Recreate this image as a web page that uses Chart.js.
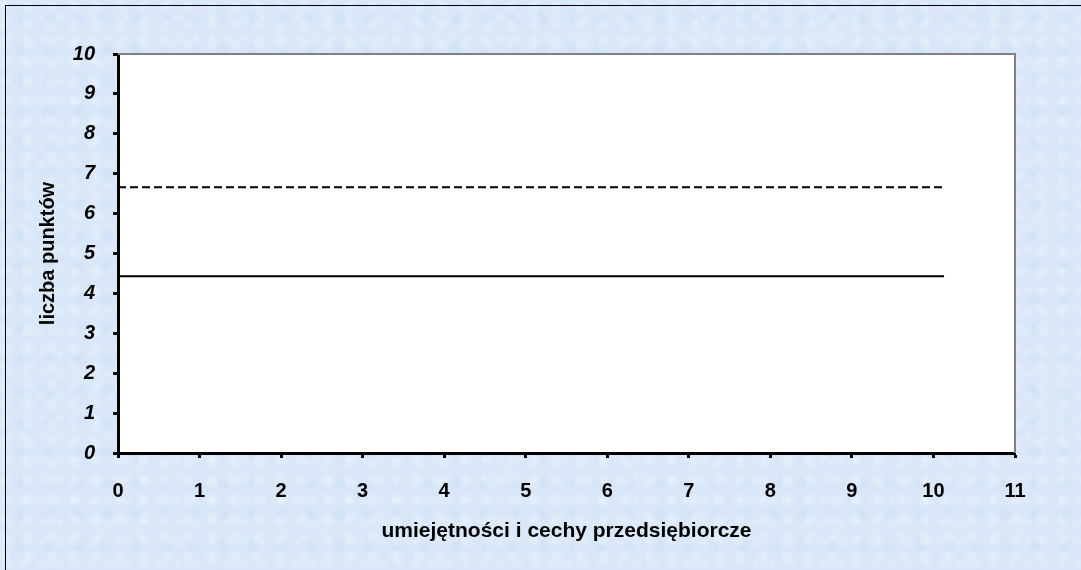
<!DOCTYPE html>
<html>
<head>
<meta charset="utf-8">
<script src="https://cdn.jsdelivr.net/npm/chart.js@4/dist/chart.umd.min.js"></script>
<style>
  html, body { margin: 0; padding: 0; }
  body {
    width: 1081px; height: 570px; overflow: hidden;
    background-color: #d9e7f8;
    background-image:
      radial-gradient(circle at 20% 30%, rgba(255,255,255,0.28) 0, rgba(255,255,255,0) 8px),
      radial-gradient(circle at 70% 60%, rgba(196,218,244,0.4) 0, rgba(196,218,244,0) 9px),
      radial-gradient(circle at 45% 85%, rgba(255,255,255,0.22) 0, rgba(255,255,255,0) 6px);
    background-size: 23px 19px, 29px 31px, 17px 21px;
  }
  #wrap {
    position: absolute; left: 5px; top: 5px; width: 1076px; height: 565px;
    border-left: 1px solid #000; border-top: 1px solid #000;
  }
  canvas { position: absolute; left: 0; top: 0; }
</style>
</head>
<body>
<div id="wrap"></div>
<canvas id="chart" width="1081" height="570"></canvas>
<script>
// data
const xTicks = [0, 1, 2, 3, 4, 5, 6, 7, 8, 9, 10, 11];
const yTicks = [0, 1, 2, 3, 4, 5, 6, 7, 8, 9, 10];
const dashedX = [0, 10.13];
const dashedY = [6.66, 6.66];
const solidX = [0, 10.13];
const solidY = [4.43, 4.43];

const toPts = (xs, ys) => xs.map((x, i) => ({ x: x, y: ys[i] }));
const FONT = "'Liberation Sans', Arial, sans-serif";

const plotFrame = {
  id: 'plotFrame',
  beforeDraw(chart) {
    const { ctx, chartArea: a } = chart;
    ctx.save();
    ctx.fillStyle = '#fff';
    ctx.fillRect(a.left, a.top, a.right - a.left, a.bottom - a.top);
    ctx.restore();
  },
  afterDraw(chart) {
    const { ctx, chartArea: a } = chart;
    ctx.save();
    ctx.strokeStyle = '#808080';
    ctx.lineWidth = 2;
    ctx.beginPath();
    ctx.moveTo(a.left, a.top);
    ctx.lineTo(a.right, a.top);
    ctx.lineTo(a.right, a.bottom);
    ctx.stroke();
    ctx.restore();
  }
};

new Chart(document.getElementById('chart'), {
  type: 'scatter',
  data: {
    datasets: [
      {
        data: toPts(dashedX, dashedY),
        showLine: true,
        borderColor: '#000',
        borderWidth: 2,
        borderDash: [8, 4],
        pointRadius: 0
      },
      {
        data: toPts(solidX, solidY),
        showLine: true,
        borderColor: '#000',
        borderWidth: 2,
        pointRadius: 0
      }
    ]
  },
  options: {
    responsive: false,
    animation: false,
    layout: { padding: { top: 54, right: 66, left: 0, bottom: 0 } },
    plugins: { legend: { display: false }, tooltip: { enabled: false } },
    scales: {
      x: {
        type: 'linear',
        min: 0, max: 11,
        afterBuildTicks: s => { s.ticks = xTicks.map(v => ({ value: v })); },
        border: { color: '#000', width: 3 },
        grid: { drawOnChartArea: false, tickLength: 5, tickWidth: 3, tickColor: '#000' },
        ticks: {
          color: '#000', padding: 21,
          font: { family: FONT, size: 20, weight: 'bold' }
        },
        title: {
          display: true, text: 'umiejętności i cechy przedsiębiorcze', color: '#000',
          font: { family: FONT, size: 21, weight: 'bold' },
          padding: { top: 0, bottom: 26 }
        },
        afterFit: s => { s.height = 570 - 453; }
      },
      y: {
        min: 0, max: 10,
        afterBuildTicks: s => { s.ticks = yTicks.map(v => ({ value: v })); },
        border: { color: '#000', width: 3 },
        grid: { drawOnChartArea: false, tickLength: 5, tickWidth: 3, tickColor: '#000' },
        ticks: {
          color: '#000', padding: 18,
          font: { family: FONT, size: 20, weight: 'bold', style: 'italic' }
        },
        title: {
          display: true, text: 'liczba punktów', color: '#000',
          font: { family: FONT, size: 20, weight: 'bold' },
          padding: { top: 36, bottom: 0 }
        },
        afterFit: s => { s.width = 118; }
      }
    }
  },
  plugins: [plotFrame]
});
</script>
</body>
</html>
